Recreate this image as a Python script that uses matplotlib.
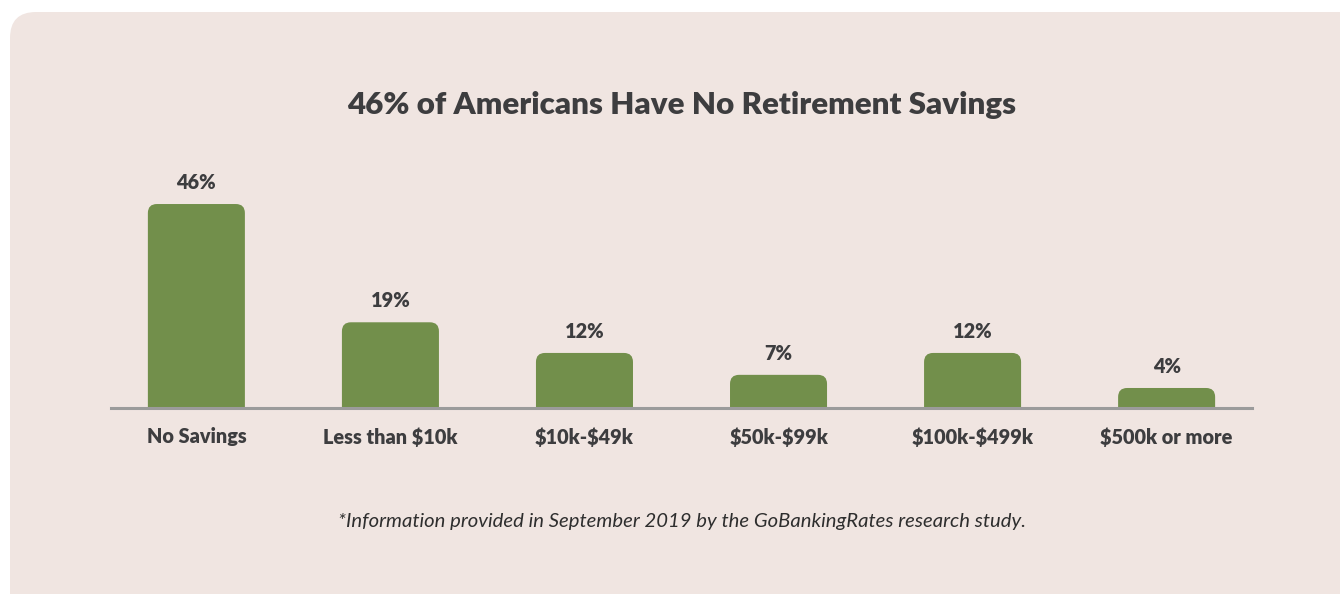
import matplotlib.pyplot as plt
from matplotlib.patches import FancyBboxPatch
from matplotlib.transforms import IdentityTransform

categories = ['No Savings', 'Less than $10k', '$10k-$49k', '$50k-$99k',
              '$100k-$499k', '$500k or more']
values = [46, 19, 12, 7, 12, 4]
labels = ['46%', '19%', '12%', '7%', '12%', '4%']

TITLE = '46% of Americans Have No Retirement Savings'
NOTE = '*Information provided in September 2019 by the GoBankingRates research study.'

BG = '#F0E5E1'
GREEN = '#728F4B'
TEXT = '#3D3D3F'
W, H = 1340, 594

plt.rcParams['font.family'] = ['Lato', 'DejaVu Sans']
plt.rcParams['text.parse_math'] = False

fig = plt.figure(figsize=(W / 100, H / 100), dpi=100)
fig.patch.set_facecolor('white')

# rounded panel behind everything (pixel coords)
panel = FancyBboxPatch((10, -40), W + 40, H - 12 + 40,
                       boxstyle='round,pad=0,rounding_size=26',
                       transform=IdentityTransform(), facecolor=BG,
                       edgecolor='none', zorder=-5)
fig.patches.append(panel)

# axes placed in pixels, bottom edge = baseline
left, right, base, top = 111, 1252, 408, 150
ax = fig.add_axes([left / W, (H - base) / H, (right - left) / W, (base - top) / H])
ax.set_zorder(2)
ax.set_facecolor('none')
px_per_unit = 4.38
y0 = -0.57
ax.set_xlim(-0.44, 5.44)
ax.set_ylim(y0, y0 + (base - top) / px_per_unit)

bw = 0.5
r_px = 9
rx = r_px / 194.0
ry = r_px / px_per_unit
for i, v in enumerate(values):
    p = FancyBboxPatch((i - bw / 2, y0 - 3), bw, v - y0 + 3,
                       boxstyle=f'round,pad=0,rounding_size={rx}',
                       mutation_aspect=ry / rx,
                       facecolor=GREEN, edgecolor='none', zorder=2)
    ax.add_patch(p)
    ax.annotate(labels[i], (i, v), xytext=(0, 12), textcoords='offset pixels',
                ha='center', va='bottom', fontsize=14.3, fontweight='heavy',
                color=TEXT)

ax.axhline(y0, color='#9B9B9B', lw=2.2, zorder=3, clip_on=False)
ax.set_xticks(range(len(categories)))
ax.set_xticklabels(categories, fontsize=14.3, fontweight='heavy', color=TEXT)
ax.tick_params(axis='x', length=0, pad=14)
ax.set_yticks([])
for s in ax.spines.values():
    s.set_visible(False)

fig.text(682 / W, 1 - 105 / H, TITLE, ha='center', va='center',
         fontsize=22.5, fontweight='heavy', color=TEXT)
fig.text(682 / W, 1 - 522 / H, NOTE, ha='center', va='center',
         fontsize=14.6, style='italic', color='#2E2E2E')

fig.savefig('out.png', dpi=100, facecolor='white')
